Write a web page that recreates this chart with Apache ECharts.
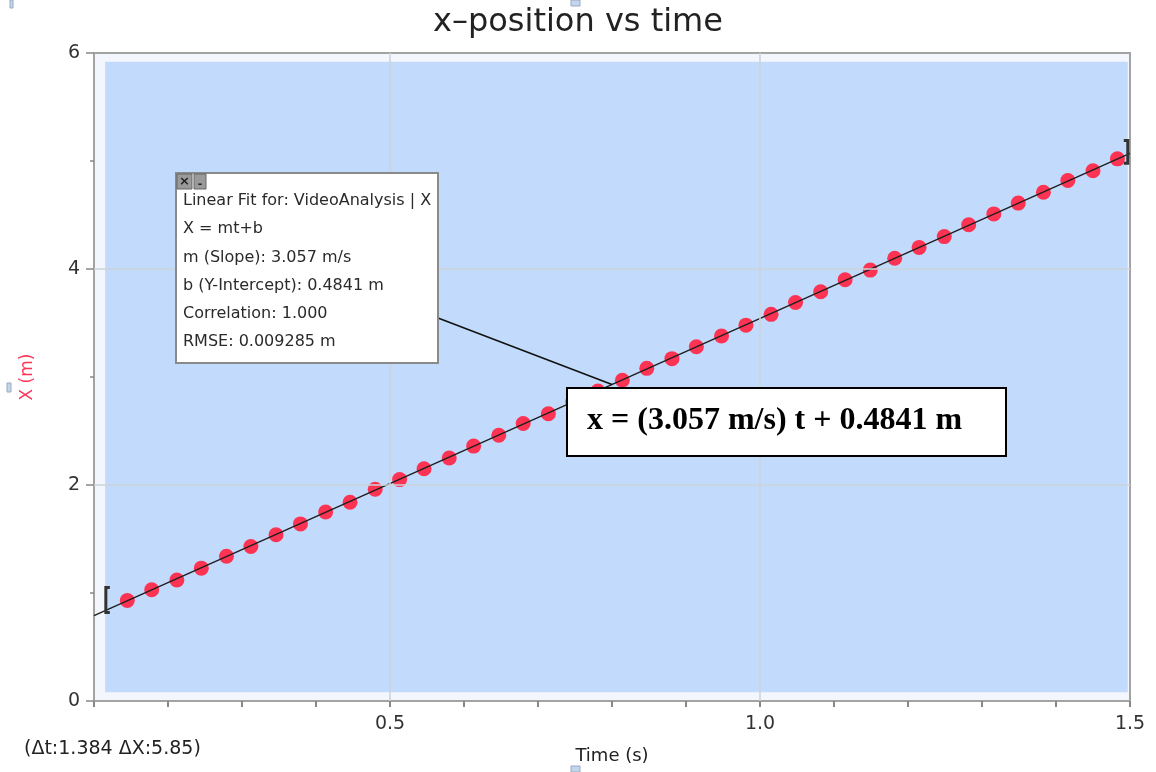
<!DOCTYPE html>
<html>
<head>
<meta charset="utf-8">
<script src="https://cdn.jsdelivr.net/npm/echarts@6/dist/echarts.min.js"></script>
<style>
html,body{margin:0;padding:0;background:#fff;}
#chart{width:1156px;height:772px;}
</style>
</head>
<body>
<div id="chart"></div>
<script>
// ---- data ----
const timeValues = [0.145,0.178,0.212,0.245,0.279,0.312,0.346,0.379,0.413,0.446,0.480,0.513,0.546,0.580,0.613,0.647,0.680,0.714,0.747,0.781,0.814,0.847,0.881,0.914,0.948,0.981,1.015,1.048,1.082,1.115,1.149,1.182,1.215,1.249,1.282,1.316,1.349,1.383,1.416,1.450,1.483];
const xValues = [0.93,1.03,1.12,1.23,1.34,1.43,1.54,1.64,1.75,1.84,1.96,2.05,2.15,2.25,2.36,2.46,2.57,2.66,2.77,2.87,2.97,3.08,3.17,3.28,3.38,3.48,3.58,3.69,3.79,3.90,3.99,4.10,4.20,4.30,4.41,4.51,4.61,4.71,4.82,4.91,5.02];
const fitT = [0.1, 1.5];
const fitX = [0.790, 5.070];
const bracketT = [0.116, 1.497];
const bracketLow = [0.82, 4.98];
const bracketHigh = [1.05, 5.19];
const bracketDir = [1, -1];
const plotAreaFrom = [0.115, 0.08];
const plotAreaTo = [1.497, 5.92];
const gridX = [0.5, 1.0];
const gridY = [2, 4];
const leaderEnd = [0.80, 2.93];
const titleText = 'x\u2013position vs time';
const xAxisName = 'Time (s)';
const yAxisName = 'X (m)';
const fitLines = ['Linear Fit for: VideoAnalysis | X','X = mt+b','m (Slope): 3.057 m/s','b (Y-Intercept): 0.4841 m','Correlation: 1.000','RMSE: 0.009285 m'];
const equationText = 'x = (3.057 m/s) t + 0.4841 m';
const deltaText = '(\u0394t:1.384 \u0394X:5.85)';

const chart = echarts.init(document.getElementById('chart'), null, {renderer:'canvas'});
const FONT = 'DejaVu Sans';

const points = timeValues.map((t,i)=>[t, xValues[i]]);
const fitData = fitT.map((t,i)=>[t, fitX[i]]);
const bracketData = bracketT.map((t,i)=>[t, bracketLow[i], bracketHigh[i], bracketDir[i]]);

const option = {
  animation:false,
  title:{text:titleText, left:'center', top:2, textStyle:{fontFamily:FONT, fontSize:32, fontWeight:'normal', color:'#222'}},
  grid:{left:94, right:26, top:53, bottom:71, show:true, borderColor:'#a3a3a3', borderWidth:2, backgroundColor:'#f3f7fd'},
  xAxis:{
    type:'value', min:0.1, max:1.5, interval:0.1,
    name:xAxisName, nameLocation:'middle', nameGap:46,
    nameTextStyle:{fontFamily:FONT, fontSize:18, color:'#222'},
    axisLine:{show:true, lineStyle:{color:'#a3a3a3', width:2}},
    axisTick:{show:true, length:6, lineStyle:{color:'#888', width:2}},
    axisLabel:{margin:14, fontFamily:FONT, fontSize:19, color:'#333',
      formatter:function(v){ const d=v*2; return Math.abs(d-Math.round(d))<1e-6 ? v.toFixed(1) : ''; }},
    splitLine:{show:false}
  },
  yAxis:{
    type:'value', min:0, max:6, interval:2,
    name:yAxisName, nameLocation:'middle', nameGap:58, nameRotate:90,
    nameTextStyle:{fontFamily:FONT, fontSize:17, color:'#ff3355'},
    axisLine:{show:true, lineStyle:{color:'#a3a3a3', width:2}},
    axisTick:{show:true, length:8, lineStyle:{color:'#888', width:1.5}},
    minorTick:{show:true, splitNumber:2, length:4, lineStyle:{color:'#888', width:1.5}},
    axisLabel:{margin:14, fontFamily:FONT, fontSize:19, color:'#333'},
    splitLine:{show:false}
  },
  series:[
    {
      type:'line', data:[], z:1, silent:true,
      markArea:{silent:true, itemStyle:{color:'#c2dbfc'}, data:[[{coord:plotAreaFrom},{coord:plotAreaTo}]]},
      markLine:{silent:true, symbol:'none', label:{show:false}, lineStyle:{color:'#cdd3da', width:1.6, type:'solid'},
        data: gridX.map(v=>({xAxis:v})).concat(gridY.map(v=>({yAxis:v})))}
    },
    {
      type:'scatter', data:points, symbol:'circle', symbolSize:15, z:3,
      itemStyle:{color:'#ff2a4a', opacity:0.95}
    },
    {
      type:'line', data:fitData, symbol:'none', z:4,
      lineStyle:{color:'#1e1e1e', width:1.4}
    },
    {
      type:'custom', data:bracketData, z:5,
      renderItem:function(params, api){
        const top = api.coord([api.value(0), api.value(2)]);
        const bot = api.coord([api.value(0), api.value(1)]);
        const d = api.value(3);
        return {type:'polyline', shape:{points:[[top[0]+d*4, top[1]],[top[0], top[1]],[bot[0], bot[1]],[bot[0]+d*4, bot[1]]]},
          style:{stroke:'#333', lineWidth:3, fill:null}};
      }
    }
  ]
};
chart.setOption(option);

// annotations
const end = chart.convertToPixel({gridIndex:0}, leaderEnd);
const graphics = [];
graphics.push({type:'line', z:10, shape:{x1:438, y1:318, x2:end[0], y2:end[1]}, style:{stroke:'#111', lineWidth:1.6}});
// fit box
graphics.push({type:'rect', z:11, shape:{x:176, y:173, width:262, height:190}, style:{fill:'#fff', stroke:'#8a8a8a', lineWidth:2}});
graphics.push({type:'rect', z:12, shape:{x:177, y:174, width:15, height:15}, style:{fill:'#9a9a9a', stroke:'#666', lineWidth:1}});
graphics.push({type:'text', z:13, style:{x:184.5, y:181.5, text:'\u00d7', font:'bold 13px '+FONT, fill:'#222', align:'center', verticalAlign:'middle'}});
graphics.push({type:'rect', z:12, shape:{x:194, y:174, width:12, height:15}, style:{fill:'#9a9a9a', stroke:'#666', lineWidth:1}});
graphics.push({type:'text', z:13, style:{x:200, y:184, text:'-', font:'bold 11px '+FONT, fill:'#222', align:'center', verticalAlign:'middle'}});
fitLines.forEach((s,i)=>{
  graphics.push({type:'text', z:13, style:{x:183, y:201+i*28.2, text:s, font:'16px '+FONT, fill:'#2a2a2a', align:'left', verticalAlign:'middle'}});
});
// equation box
graphics.push({type:'rect', z:11, shape:{x:567, y:388, width:439, height:68}, style:{fill:'#fff', stroke:'#000', lineWidth:2}});
graphics.push({type:'text', z:13, style:{x:587, y:421, text:equationText, font:'bold 32px "Liberation Serif"', fill:'#000', align:'left', verticalAlign:'middle'}});
// bottom-left readout
graphics.push({type:'text', z:13, style:{x:24, y:749, text:deltaText, font:'19px '+FONT, fill:'#222', align:'left', verticalAlign:'middle'}});
// small selection handles
graphics.push({type:'rect', z:13, shape:{x:571, y:0, width:9, height:6}, style:{fill:'#c2d6f2', stroke:'#9ab', lineWidth:1}});
graphics.push({type:'rect', z:13, shape:{x:571, y:766, width:9, height:6}, style:{fill:'#c2d6f2', stroke:'#9ab', lineWidth:1}});
graphics.push({type:'rect', z:13, shape:{x:7, y:383, width:4, height:9}, style:{fill:'#c2d6f2', stroke:'#9ab', lineWidth:1}});
graphics.push({type:'rect', z:13, shape:{x:10, y:0, width:3, height:8}, style:{fill:'#c2d6f2', stroke:'#9ab', lineWidth:1}});
chart.setOption({graphic:graphics});
</script>
</body>
</html>
